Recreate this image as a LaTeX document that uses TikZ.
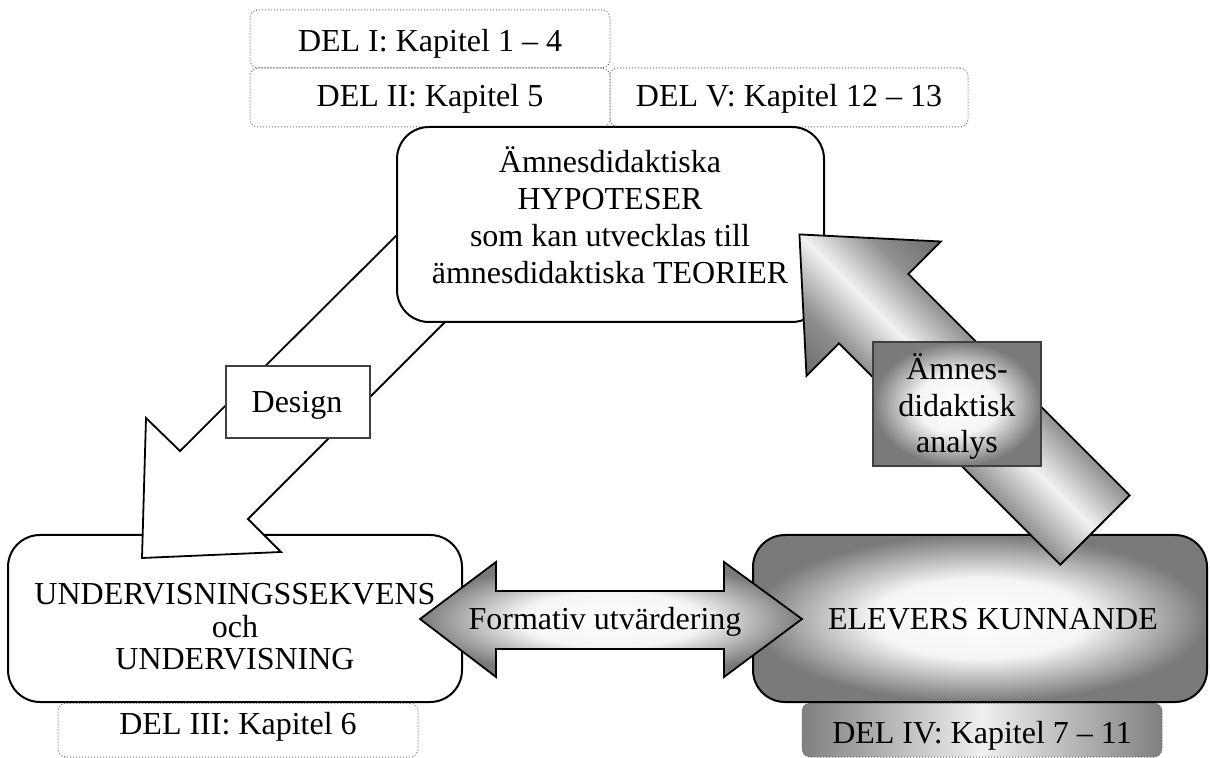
\documentclass[tikz,border=0pt]{standalone}
\usepackage{fontspec}
\setmainfont{Liberation Serif}
\usepackage{tikz}
\pgfdeclareverticalshading{armshade}{100bp}{color(0bp)=(black!58); color(25bp)=(black!58); color(37bp)=(black!44); color(50bp)=(black!5); color(63bp)=(black!44); color(75bp)=(black!58); color(100bp)=(black!58)}
\pgfdeclareradialshading{softglow}{\pgfpoint{0bp}{0bp}}{color(0bp)=(white); color(12bp)=(black!4); color(25bp)=(black!52); color(50bp)=(black!52)}

\begin{document}
\begin{tikzpicture}[x=0.5pt,y=-0.5pt,every node/.style={font=\fontsize{16}{18.4}\selectfont}]
      \tikzstyle{part}  =[draw=black!55,densely dotted,line width=0.5pt,rounded corners=4pt,
                          inner sep=0pt,text height=12pt,text depth=3pt];
      \tikzstyle{bigbox}=[draw,line width=1pt,rounded corners=16pt,inner sep=0pt];
      \tikzstyle{tag}   =[draw=black!75,line width=0.6pt,inner sep=0pt];
      \tikzstyle{glow}  =[shade,shading=softglow];
      \tikzstyle{band}  =[left color=black!50,right color=black!50,middle color=black!6];
      \tikzstyle{lbl}   =[anchor=base,inner sep=0pt];
      \tikzstyle{blk}   =[draw,line width=0.9pt,line join=miter];
      \useasboundingbox (0,0) rectangle (1210,758);
      \node[part,minimum width=180pt,minimum height=29pt,text height=16pt] (del1) at (430,39) {DEL I: Kapitel 1 -- 4};
      \node[part,minimum width=180pt,minimum height=29.5pt] (del2) at (430,97.5) {DEL II: Kapitel 5};
      \node[part,minimum width=179pt,minimum height=29.5pt] (del5) at (789,97.5) {DEL V: Kapitel 12 -- 13};
      \node[part,minimum width=180pt,minimum height=27pt,text height=7pt] (del3) at (238,730) {DEL III: Kapitel 6};
      \node[part,band,minimum width=180pt,minimum height=27pt,text height=16pt] (del4) at (982,730) {DEL IV: Kapitel 7 -- 11};
      \node[bigbox,fill=white,minimum width=227pt,minimum height=83.5pt] (teach) at (235,618.5) {};
      \node[align=center,inner sep=0pt,font=\fontsize{16}{16.3}\selectfont] (teach-txt) at (235,627)
            {UNDERVISNINGSSEKVENS\\och\\UNDERVISNING};
      \draw[blk,fill=white] (416,216) -- (180,451) -- (146,418) -- (142,558) -- (281,552)
            -- (248,519) -- (483,284) -- cycle;
      \node[bigbox,fill=white,minimum width=213.5pt,minimum height=97.5pt] (hyp) at (610.5,224.5) {};
      \node[align=center,inner sep=0pt] (hyp-txt) at (610,215)
            {Ämnesdidaktiska\\HYPOTESER\\som kan utvecklas till\\ämnesdidaktiska TEORIER};
      \node[bigbox,glow,minimum width=227pt,minimum height=83.5pt] (know) at (980,618.5) {};
      \node[lbl] (know-txt) at (993,630) {ELEVERS KUNNANDE};
      \begin{scope}[transform canvas={shift={(1095,530)},rotate=135}]
        \shade[blk,shading=armshade] (0,-49) -- (313,-49) -- (313,-95) -- (418,0) -- (313,95)
              -- (313,49) -- (0,49) -- cycle;
      \end{scope}
      \node[tag,glow,minimum width=84pt,minimum height=62pt] (analys) at (957,404) {};
      \node[align=center,inner sep=0pt] (analys-txt) at (957,406.5) {Ämnes-\\didaktisk\\analys};
      \node[tag,fill=white,minimum width=72pt,minimum height=36pt] (design) at (298,402) {};
      \node[lbl] (design-txt) at (297,413) {Design};
      \shade[blk,glow] (420,619) -- (496,562) -- (496,591) -- (724,591) -- (724,562) -- (802,619)
            -- (724,677) -- (724,649) -- (496,649) -- (496,677) -- cycle;
      \node[lbl] (formativ) at (605,630) {Formativ utvärdering};
\end{tikzpicture}
\end{document}
